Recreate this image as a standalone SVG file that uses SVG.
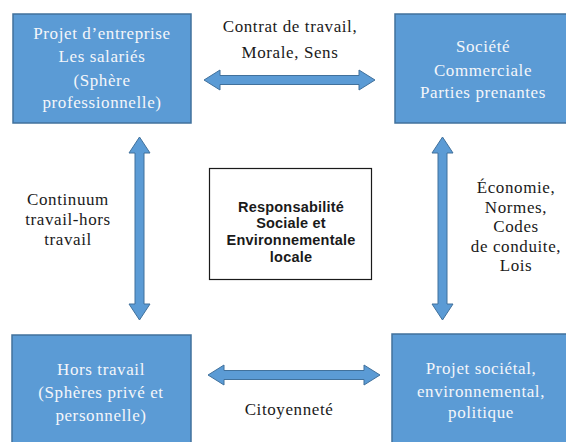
<svg xmlns="http://www.w3.org/2000/svg" width="566" height="442" viewBox="0 0 566 442">
<style>
.box{fill:#5b9bd5;stroke:#41719c;stroke-width:1.5}
.arr{fill:#5b9bd5;stroke:#41719c;stroke-width:1}
.bt{font-family:"Liberation Serif","Times New Roman","DejaVu Serif",serif;font-size:17px;fill:#f4f6fa;text-anchor:middle;letter-spacing:0.6px}
.lt{font-family:"Liberation Serif","Times New Roman","DejaVu Serif",serif;font-size:17px;fill:#1a1a1a;text-anchor:middle;letter-spacing:0.6px}
.ct{font-family:"Liberation Sans Narrow","Liberation Sans",Arial,sans-serif;font-size:14.5px;font-weight:bold;fill:#1a1a1a;text-anchor:middle;letter-spacing:0.2px}
</style>
<rect width="566" height="442" fill="#ffffff"/>
<g id="connectors">
<polygon class="arr" points="204,80 220,70 220,75.5 359,75.5 359,70 375,80 359,90 359,84.5 220,84.5 220,90"/>
<polygon class="arr" points="208,375 224,365 224,370.5 364,370.5 364,365 380,375 364,385 364,379.5 224,379.5 224,385"/>
<polygon class="arr" points="139.5,137 150,153 144,153 144,304 150,304 139.5,320 129,304 135,304 135,153 129,153"/>
<polygon class="arr" points="442.5,137 453,153 447,153 447,304 453,304 442.5,320 432,304 438,304 438,153 432,153"/>
<text class="lt" x="290" y="32">Contrat de travail,</text>
<text class="lt" x="290" y="58">Morale, Sens</text>
<text class="lt" x="68" y="205">Continuum</text>
<text class="lt" x="68" y="225">travail-hors</text>
<text class="lt" x="68" y="245">travail</text>
<text class="lt" x="516" y="193">Économie,</text>
<text class="lt" x="516" y="212.5">Normes,</text>
<text class="lt" x="516" y="232">Codes</text>
<text class="lt" x="516" y="251.5">de conduite,</text>
<text class="lt" x="516" y="271">Lois</text>
<text class="lt" x="289" y="415">Citoyenneté</text>
</g>
<g id="entreprise">
<rect class="box" x="13" y="14" width="178" height="109"/>
<text class="bt" x="102" y="39">Projet d’entreprise</text>
<text class="bt" x="102" y="62">Les salariés</text>
<text class="bt" x="102" y="86">(Sphère</text>
<text class="bt" x="102" y="108">professionnelle)</text>
</g>
<g id="societe">
<rect class="box" x="395" y="14" width="180" height="109"/>
<text class="bt" x="483" y="52">Société</text>
<text class="bt" x="483" y="76">Commerciale</text>
<text class="bt" x="483" y="98">Parties prenantes</text>
</g>
<g id="rse">
<rect x="209.5" y="168.5" width="162" height="111" fill="#ffffff" stroke="#1a1a1a" stroke-width="1.2"/>
<text class="ct" x="291" y="212">Responsabilité</text>
<text class="ct" x="291" y="228">Sociale et</text>
<text class="ct" x="291" y="245">Environnementale</text>
<text class="ct" x="291" y="262">locale</text>
</g>
<g id="hors-travail">
<rect class="box" x="12" y="335" width="179" height="115"/>
<text class="bt" x="101" y="375">Hors travail</text>
<text class="bt" x="101" y="398">(Sphères privé et</text>
<text class="bt" x="101" y="421">personnelle)</text>
</g>
<g id="projet-societal">
<rect class="box" x="392" y="334" width="185" height="115"/>
<text class="bt" x="481" y="374">Projet sociétal,</text>
<text class="bt" x="481" y="397">environnemental,</text>
<text class="bt" x="481" y="418">politique</text>
</g>
</svg>
